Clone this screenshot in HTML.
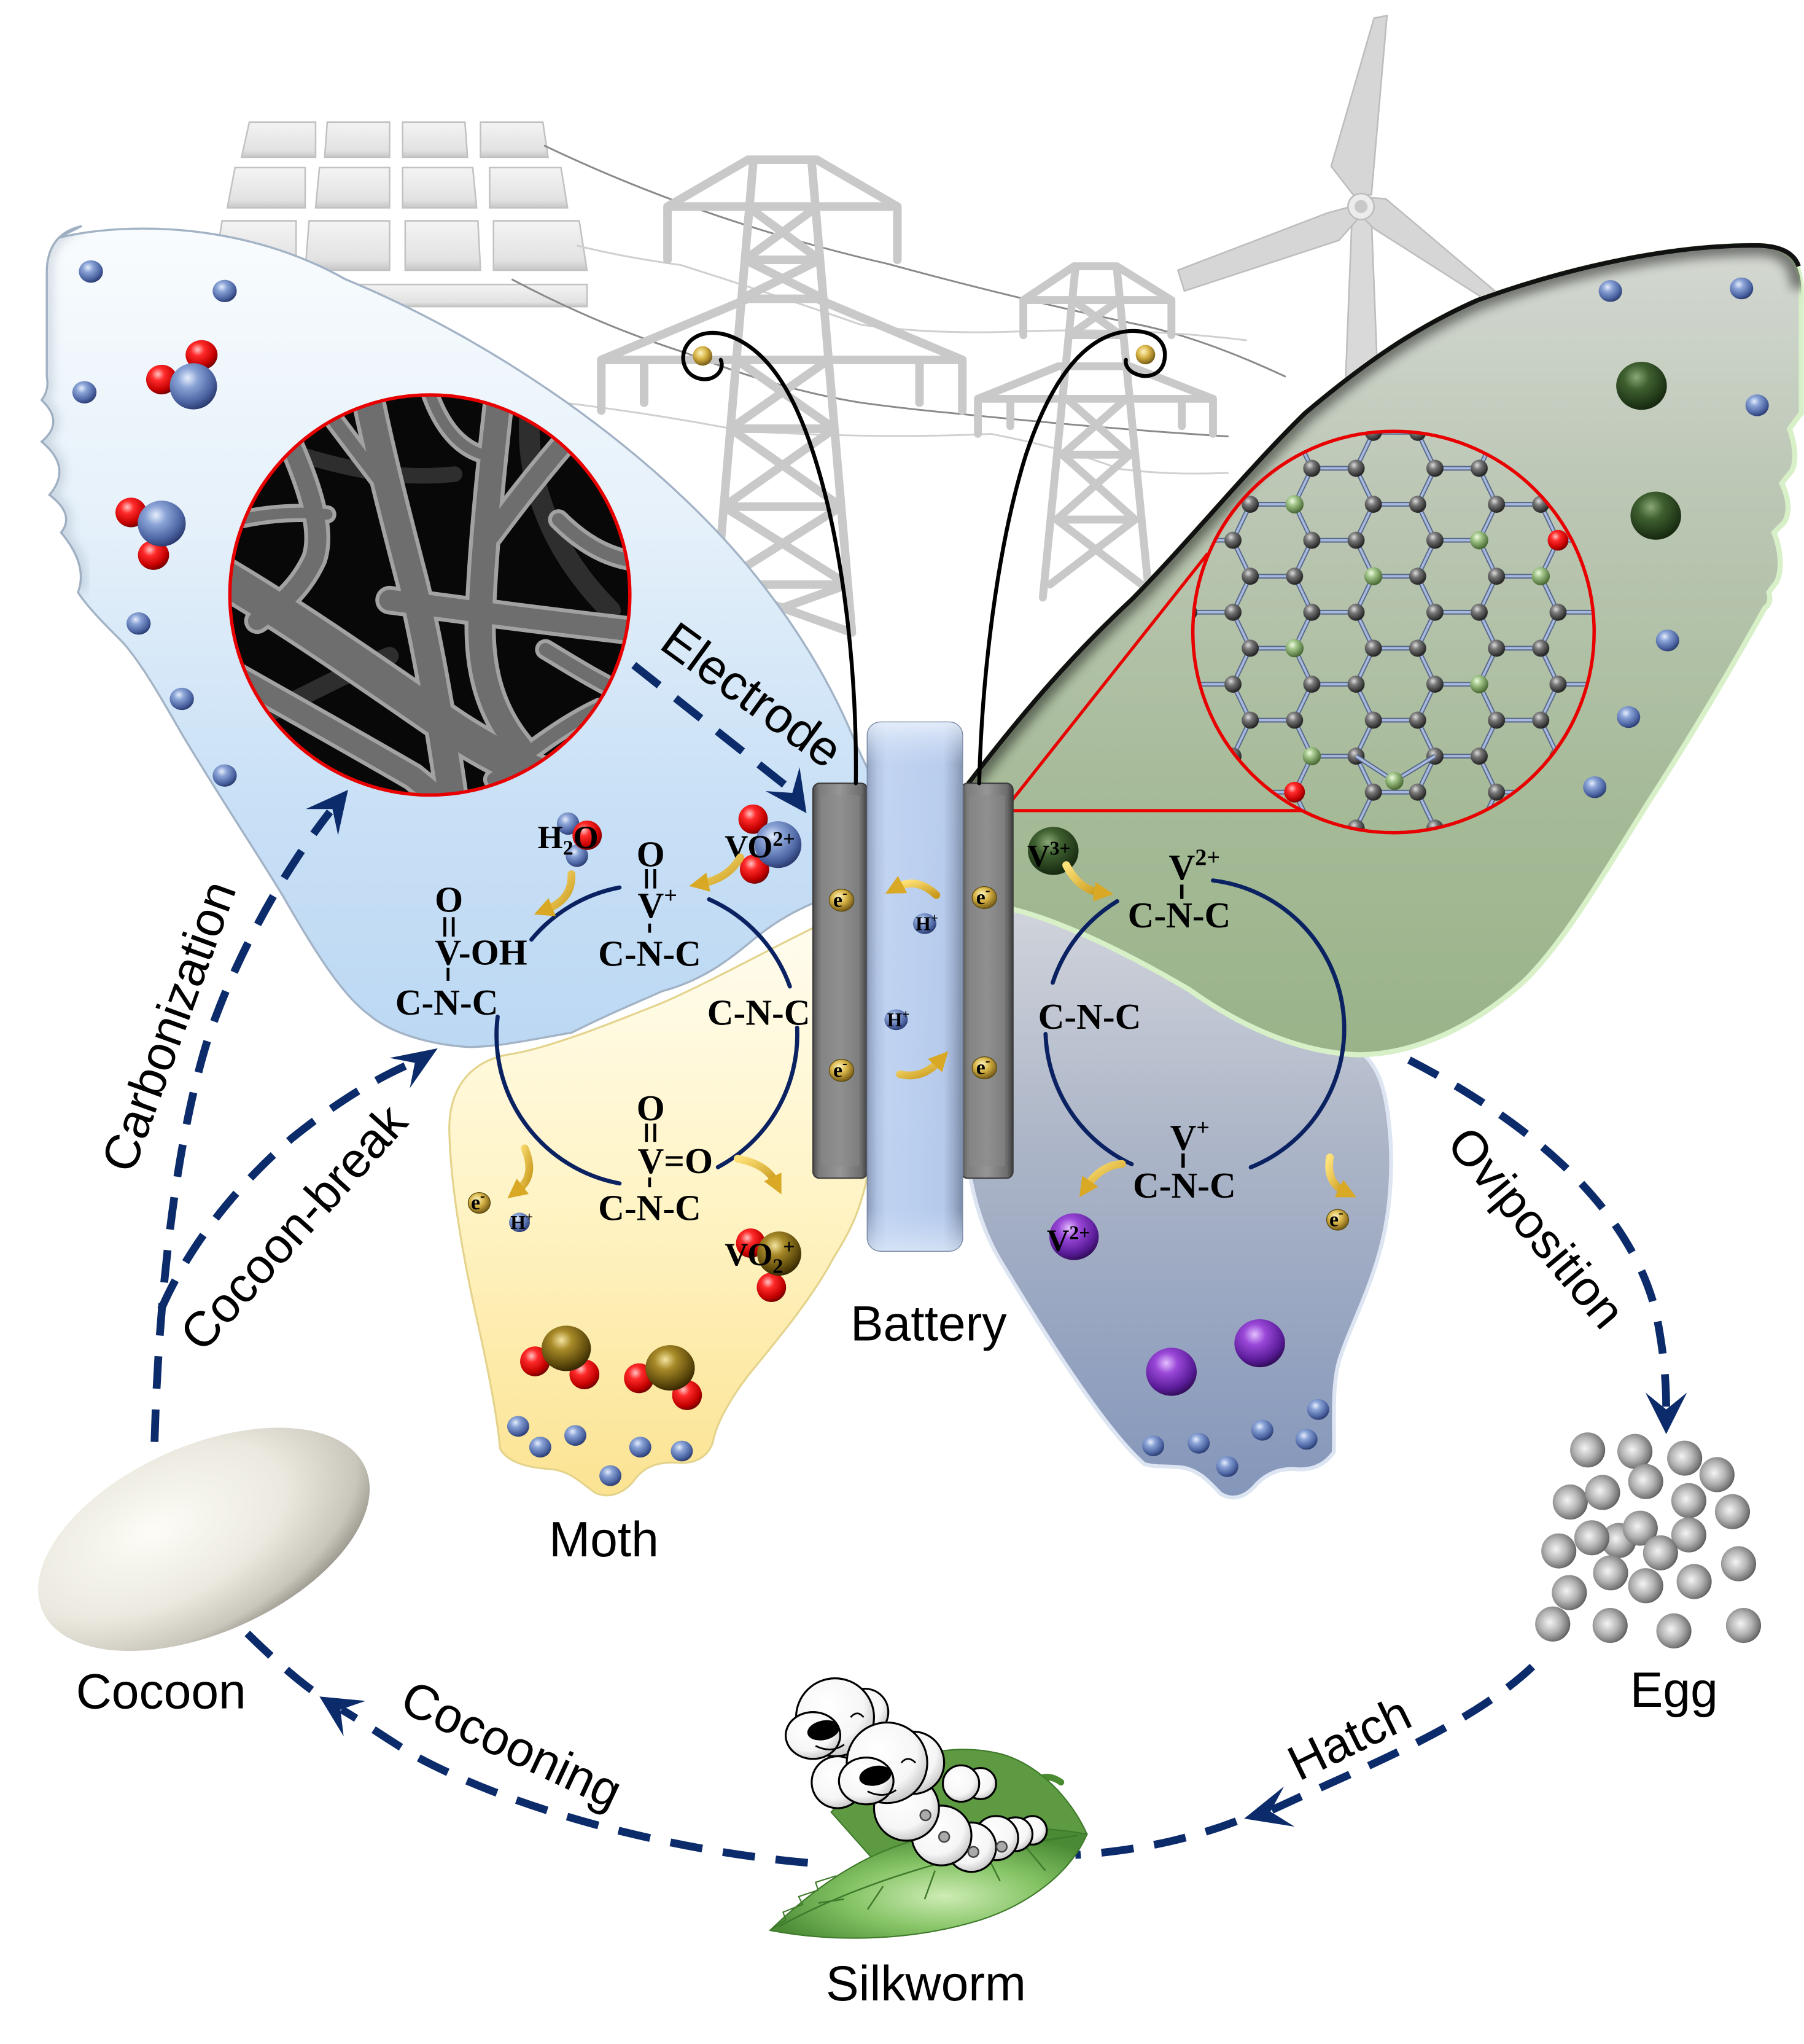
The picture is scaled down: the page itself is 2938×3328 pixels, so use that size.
<!DOCTYPE html>
<html><head><meta charset="utf-8">
<style>
html,body{margin:0;padding:0;background:#fff;}
svg{display:block;}
.cs{font-family:"Liberation Serif",serif;font-weight:bold;fill:#000;}
.lb{font-family:"Liberation Sans",sans-serif;fill:#000;font-size:38px;}
</style></head><body>
<svg width="2938" height="3328" viewBox="0 0 1389.1 1573.5" preserveAspectRatio="none" xmlns="http://www.w3.org/2000/svg">
<defs>
<radialGradient id="gBlue" cx=".38" cy=".32" r=".72"><stop offset="0" stop-color="#e6eefc"/><stop offset=".3" stop-color="#8aa3d6"/><stop offset=".75" stop-color="#4a62a0"/><stop offset="1" stop-color="#263668"/></radialGradient>
<radialGradient id="gRed" cx=".38" cy=".32" r=".72"><stop offset="0" stop-color="#ffc4c4"/><stop offset=".3" stop-color="#ff2a2a"/><stop offset=".75" stop-color="#c40000"/><stop offset="1" stop-color="#6a0000"/></radialGradient>
<radialGradient id="gDG" cx=".4" cy=".32" r=".72"><stop offset="0" stop-color="#8aa878"/><stop offset=".35" stop-color="#3f6030"/><stop offset="1" stop-color="#12240c"/></radialGradient>
<radialGradient id="gPur" cx=".4" cy=".32" r=".72"><stop offset="0" stop-color="#e4c0ff"/><stop offset=".3" stop-color="#9a48d8"/><stop offset=".75" stop-color="#5a1c98"/><stop offset="1" stop-color="#2c0a50"/></radialGradient>
<radialGradient id="gGold" cx=".4" cy=".32" r=".72"><stop offset="0" stop-color="#f4e4a0"/><stop offset=".3" stop-color="#a88a28"/><stop offset=".75" stop-color="#5e4a0c"/><stop offset="1" stop-color="#2e2200"/></radialGradient>
<radialGradient id="gE" cx=".4" cy=".35" r=".7"><stop offset="0" stop-color="#fff6c0"/><stop offset=".45" stop-color="#d6b244"/><stop offset="1" stop-color="#6a5010"/></radialGradient>
<radialGradient id="gEgg" cx=".42" cy=".45" r=".62"><stop offset="0" stop-color="#f4f4f4"/><stop offset=".5" stop-color="#b4b4b4"/><stop offset=".85" stop-color="#777"/><stop offset="1" stop-color="#4a4a4a"/></radialGradient>
<radialGradient id="gAtom" cx=".38" cy=".32" r=".72"><stop offset="0" stop-color="#dcdcdc"/><stop offset=".35" stop-color="#777"/><stop offset="1" stop-color="#1a1a1a"/></radialGradient>
<radialGradient id="gGA" cx=".38" cy=".32" r=".72"><stop offset="0" stop-color="#eefbe0"/><stop offset=".35" stop-color="#a0c488"/><stop offset="1" stop-color="#40602a"/></radialGradient>
<radialGradient id="gCocoon" cx=".38" cy=".35" r=".72"><stop offset="0" stop-color="#fdfcf6"/><stop offset=".55" stop-color="#ebe9df"/><stop offset=".85" stop-color="#c9c6bb"/><stop offset="1" stop-color="#8e8b82"/></radialGradient>
<radialGradient id="gLeaf" cx=".55" cy=".62" r=".6"><stop offset="0" stop-color="#cdecb4"/><stop offset=".5" stop-color="#86c466"/><stop offset="1" stop-color="#4a8a34"/></radialGradient>
<radialGradient id="gWorm" cx=".4" cy=".35" r=".72"><stop offset="0" stop-color="#fff"/><stop offset=".65" stop-color="#f6f6f6"/><stop offset="1" stop-color="#bcbcbc"/></radialGradient>
<linearGradient id="wBlue" x1="0" y1="0" x2="0" y2="1"><stop offset="0" stop-color="#f9fcfe"/><stop offset=".35" stop-color="#e6f1fa"/><stop offset=".7" stop-color="#c9e0f6"/><stop offset="1" stop-color="#bcd8f3"/></linearGradient>
<linearGradient id="wYel" x1="0" y1="0" x2="0" y2="1"><stop offset="0" stop-color="#fffdf2"/><stop offset=".5" stop-color="#fff4c6"/><stop offset="1" stop-color="#fbe392"/></linearGradient>
<linearGradient id="wGray" x1="0" y1="0" x2="0" y2="1"><stop offset="0" stop-color="#d2d5dc"/><stop offset=".4" stop-color="#adb6c8"/><stop offset="1" stop-color="#8496ba"/></linearGradient>
<linearGradient id="wGreen" x1="0" y1="0" x2="0" y2="1"><stop offset="0" stop-color="#d4d8d2"/><stop offset=".3" stop-color="#bcc7b5"/><stop offset=".7" stop-color="#a5ba97"/><stop offset="1" stop-color="#9ab389"/></linearGradient>
<linearGradient id="gMem" x1="0" y1="0" x2="1" y2="0"><stop offset="0" stop-color="#7e8eac"/><stop offset=".1" stop-color="#a9bcdc"/><stop offset=".2" stop-color="#bfd2f0"/><stop offset=".8" stop-color="#b2c7ea"/><stop offset=".92" stop-color="#8c9dbc"/><stop offset="1" stop-color="#687894"/></linearGradient>
<linearGradient id="gMemV" x1="0" y1="0" x2="0" y2="1"><stop offset="0" stop-color="#e8f0fc" stop-opacity=".9"/><stop offset=".08" stop-color="#c8daf4" stop-opacity=".3"/><stop offset=".92" stop-color="#c0d4f2" stop-opacity=".2"/><stop offset="1" stop-color="#dce8f8" stop-opacity=".8"/></linearGradient>
<linearGradient id="gEl" x1="0" y1="0" x2="1" y2="0"><stop offset="0" stop-color="#4c4c4c"/><stop offset=".12" stop-color="#7c7c7c"/><stop offset=".5" stop-color="#969696"/><stop offset=".88" stop-color="#6e6e6e"/><stop offset="1" stop-color="#3e3e3e"/></linearGradient>
<linearGradient id="gPanel" x1="0" y1="0" x2="0" y2="1"><stop offset="0" stop-color="#f4f4f4"/><stop offset=".8" stop-color="#e2e2e2"/><stop offset="1" stop-color="#c6c6c6"/></linearGradient>
<linearGradient id="gYA" x1="0" y1="0" x2="1" y2="1"><stop offset="0" stop-color="#ffe27a"/><stop offset="1" stop-color="#c99a1c"/></linearGradient>
<filter id="blur4" x="-20%" y="-20%" width="140%" height="140%"><feGaussianBlur stdDeviation="4"/></filter>
<filter id="blur2" x="-20%" y="-20%" width="140%" height="140%"><feGaussianBlur stdDeviation="1.5"/></filter>
<clipPath id="cpSem"><circle cx="331" cy="458" r="154"/></clipPath>
<clipPath id="cpHex"><circle cx="1073" cy="486.5" r="154"/></clipPath>
<clipPath id="cpGreen"><path d="M745,604 C790,545 830,500 872,461 C920,412 960,362 1005,318 C1050,280 1090,252 1138,231 C1210,205 1290,188 1355,189 Q1386,190 1387,222 L1387,318 L1378,330 C1383,345 1383,355 1380,362 L1372,372 C1378,385 1378,395 1374,402 L1366,410 C1372,425 1372,440 1368,448 L1362,456 C1364,462 1362,466 1359,468 C1330,520 1300,570 1271,615 C1235,672 1205,725 1173,756 C1135,790 1090,812 1045,812 C1000,810 955,790 916,762 C870,735 820,710 780,700 L745,700 Z"/></clipPath>
<clipPath id="cpBlue"><path d="M45,183 C100,170 190,172 266,215 C380,262 500,345 576,436 C612,480 640,525 660,575 L672,600 L672,690 L638,691 C610,700 590,715 578,725 C560,740 540,755 510,763 C490,772 470,780 440,795 C410,800 385,806 360,806 C330,804 300,795 284,781 C262,765 240,728 218,690 C200,660 170,615 140,565 C120,530 108,510 95,495 C80,480 68,468 60,456 Q68,435 47,410 Q58,396 38,381 Q56,360 32,340 Q50,325 32,308 Q38,300 36,290 L36,210 Q36,180 63,174 Z"/></clipPath>
<pattern id="hex" patternUnits="userSpaceOnUse" x="962.7" y="388.2" width="94.8" height="55.4">
<path d="M0,0 L34.1,0 M0,55.4 L34.1,55.4 M34.1,0 L47.4,27.7 L34.1,55.4 M47.4,27.7 L81.5,27.7 M94.8,0 L81.5,27.7 L94.8,55.4" stroke="#56668a" stroke-width="3.6" fill="none"/>
<path d="M0,0 L34.1,0 M0,55.4 L34.1,55.4 M34.1,0 L47.4,27.7 L34.1,55.4 M47.4,27.7 L81.5,27.7 M94.8,0 L81.5,27.7 L94.8,55.4" stroke="#a9badf" stroke-width="1.8" fill="none"/>
<g fill="url(#gAtom)">
<circle cx="0" cy="0" r="6.6"/><circle cx="94.8" cy="0" r="6.6"/><circle cx="0" cy="55.4" r="6.6"/><circle cx="94.8" cy="55.4" r="6.6"/>
<circle cx="34.1" cy="0" r="6.6"/><circle cx="34.1" cy="55.4" r="6.6"/><circle cx="47.4" cy="27.7" r="6.6"/><circle cx="81.5" cy="27.7" r="6.6"/>
</g>
</pattern>
<marker id="ya" viewBox="0 0 10 10" refX="3" refY="5" markerWidth="15" markerHeight="15" markerUnits="userSpaceOnUse" orient="auto"><path d="M0,0 L10,5 L0,10 Z" fill="#d9a824"/></marker>
</defs>

<rect x="0" y="0" width="1389.1" height="1573.5" fill="#fff"/>

<!-- Solar panels -->
<g fill="url(#gPanel)" stroke="#c2c2c2" stroke-width="1.2">
<polygon points="192,94 243,94 243,121 186,121"/><polygon points="252,94 300,94 300,121 250,121"/><polygon points="310,94 358,94 360,121 310,121"/><polygon points="370,94 418,94 422,121 370,121"/>
<polygon points="181,129 235,129 235,160 175,160"/><polygon points="246,129 300,129 300,160 243,160"/><polygon points="310,129 364,129 367,160 310,160"/><polygon points="377,129 432,129 437,160 377,160"/>
<polygon points="171,170 228,170 228,208 165,208"/><polygon points="238,170 300,170 300,208 235,208"/><polygon points="312,170 368,170 370,208 312,208"/><polygon points="380,170 446,170 452,208 380,208"/>
<rect x="265" y="219" width="187" height="17"/>
</g>

<!-- power lines -->
<g fill="none" stroke-width="1.4">
<path d="M419,112 Q540,170 683,203 Q790,232 882,251 Q930,262 990,290" stroke="#8a8a8a"/>
<path d="M444,189 Q480,198 524,204 Q600,228 663,250 Q720,258 788,255 Q880,252 960,262" stroke="#cfcfcf"/>
<path d="M394,215 Q460,250 529,272 Q600,300 663,310 Q700,315 733,318 Q850,330 946,336" stroke="#8a8a8a"/>
<path d="M434,310 Q500,318 574,332 Q680,338 763,334 Q820,345 862,361 Q900,366 946,364" stroke="#d0d0d0"/>
</g>

<!-- Towers -->
<g fill="none" stroke-linecap="round" stroke-linejoin="round">
<path id="tw1" d="M576,123 L629,123 M576,123 L514,159 M629,123 L691,159 M514,159 L691,159 M514,159 L514,200 M691,159 L691,200 M576,230 L629,230 M576,230 L463,277 M629,230 L741,277 M463,277 L741,277 M463,277 L463,316 M741,277 L741,316 M496,277 L496,310 M708,277 L708,310 M580,125 L549,487 M625,125 L656,487 M577,160 L631.4,200 M628,160 L573.6,200 M573.6,200 L634.2,230 M631.4,200 L570.8,230 M567,277 L642.5,330 M638,277 L562.5,330 M562.5,330 L647.7,390 M642.5,330 L557.3,390 M557.3,390 L652.8,450 M647.7,390 L552.2,450 M552.2,450 L656,487 M652.8,450 L549,487 M573.6,200 L631.4,200 M562.5,330 L642.5,330 M557.3,390 L647.7,390 M552.2,450 L652.8,450" stroke="#c9c9c9" stroke-width="6.5"/>
<use href="#tw1" stroke="#e8e8e8" stroke-width="2.6"/>
<path id="tw2" d="M827,205 L860,205 M827,205 L788,231 M860,205 L902,231 M788,231 L902,231 M788,231 L788,258 M902,231 L902,258 M815,282 L870,282 M815,282 L753,307 M870,282 L934,307 M753,307 L934,307 M753,307 L753,334 M934,307 L934,334 M778,307 L778,328 M910,307 L910,328 M828,207 L803,460 M860,207 L885,460 M826,231 L863,258 M862,231 L823.5,258 M821.5,307 L870,350 M867,307 L818,350 M818,350 L874,400 M870,350 L813.5,400 M813.5,400 L879,450 M874,400 L808.5,450 M823.5,258 L865,258 M818,350 L870,350 M813.5,400 L874,400" stroke="#c9c9c9" stroke-width="6"/>
<use href="#tw2" stroke="#e8e8e8" stroke-width="2.4"/>
</g>

<!-- Wind turbine -->
<g stroke="#bdbdbd" stroke-width="1.2">
<polygon points="1041,168 1056,168 1061,295 1036,295" fill="#d9d9d9"/>
<path d="M1042,150 L1025,128 L1058,14 L1068,12 L1056,150 Z" fill="#d6d6d6"/>
<path d="M1044,158 L1022,164 L907,208 L912,224 L1031,185 L1046,168 Z" fill="#d6d6d6"/>
<path d="M1052,152 L1067,153 L1157,229 L1149,234 L1058,176 L1050,168 Z" fill="#d6d6d6"/>
<circle cx="1048" cy="159" r="10" fill="#ececec"/>
<circle cx="1048" cy="159" r="5" fill="#c8c8c8" stroke="none"/>
</g>

<!-- Lower wings -->
<path d="M346,872 C345,840 360,818 390,812 C420,808 470,788 510,772 C560,750 610,720 668,695 L668,905 C662,935 652,952 642,968 C625,1000 598,1032 576,1059 C560,1080 551,1098 549,1110 C545,1122 535,1127 522,1126 C505,1125 495,1130 488,1140 C480,1150 468,1154 458,1149 C448,1142 440,1133 425,1131 C405,1130 390,1125 385,1115 C383,1090 375,1050 366,1010 C355,960 347,910 346,872 Z" fill="url(#wYel)" stroke="#e4d38c" stroke-width="1.5"/>
<path d="M742,690 L790,700 C860,720 950,770 1040,805 C1060,815 1066,835 1069,860 C1073,890 1072,930 1062,965 C1052,1000 1038,1025 1031,1048 C1025,1070 1028,1100 1027,1118 C1020,1128 1010,1132 998,1131 C985,1130 975,1135 968,1142 C960,1152 950,1156 940,1150 C932,1142 925,1133 912,1130 C900,1128 890,1130 881,1127 C850,1100 800,1020 770,970 C758,950 750,925 746,900 Z" fill="url(#wGray)" stroke="#dde5f2" stroke-width="3"/>

<!-- Upper blue wing -->
<path d="M45,183 C100,170 190,172 266,215 C380,262 500,345 576,436 C612,480 640,525 660,575 L672,600 L672,690 L638,691 C610,700 590,715 578,725 C560,740 540,755 510,763 C490,772 470,780 440,795 C410,800 385,806 360,806 C330,804 300,795 284,781 C262,765 240,728 218,690 C200,660 170,615 140,565 C120,530 108,510 95,495 C80,480 68,468 60,456 Q68,435 47,410 Q58,396 38,381 Q56,360 32,340 Q50,325 32,308 Q38,300 36,290 L36,210 Q36,180 63,174 Z" fill="url(#wBlue)" stroke="#a3b3c6" stroke-width="1.6"/>
<g clip-path="url(#cpBlue)"><path d="M60,456 Q68,435 47,410 Q58,396 38,381 Q56,360 32,340 Q50,325 32,308 Q38,300 36,290 L36,210 Q36,180 63,174" fill="none" stroke="#8898aa" stroke-width="8" opacity=".35" filter="url(#blur4)"/></g>

<!-- Upper green wing -->
<path d="M745,604 C790,545 830,500 872,461 C920,412 960,362 1005,318 C1050,280 1090,252 1138,231 C1210,205 1290,188 1355,189 Q1386,190 1387,222 L1387,318 L1378,330 C1383,345 1383,355 1380,362 L1372,372 C1378,385 1378,395 1374,402 L1366,410 C1372,425 1372,440 1368,448 L1362,456 C1364,462 1362,466 1359,468 C1330,520 1300,570 1271,615 C1235,672 1205,725 1173,756 C1135,790 1090,812 1045,812 C1000,810 955,790 916,762 C870,735 820,710 780,700 L745,700 Z" fill="url(#wGreen)" stroke="#d8f0c8" stroke-width="4"/>
<g clip-path="url(#cpGreen)"><path d="M745,604 C790,545 830,500 872,461 C920,412 960,362 1005,318 C1050,280 1090,252 1138,231 C1210,205 1290,188 1355,189 Q1386,190 1387,222" fill="none" stroke="#000" stroke-width="16" opacity=".45" filter="url(#blur4)"/></g>
<path d="M745,604 C790,545 830,500 872,461 C920,412 960,362 1005,318 C1050,280 1090,252 1138,231 C1210,205 1290,188 1355,189 Q1380,190 1385,205" fill="none" stroke="#111" stroke-width="3.5"/>

<!-- SEM circle -->
<g clip-path="url(#cpSem)">
<rect x="170" y="300" width="320" height="320" fill="#080808"/>
<g fill="none" stroke-linecap="round">
<g stroke="#2e2e2e">
<path d="M410,300 C400,360 420,420 470,470" stroke-width="16"/>
<path d="M180,560 C230,540 260,520 300,505" stroke-width="14"/>
<path d="M200,340 C260,360 300,370 350,365" stroke-width="12"/>
</g>
<g stroke="#a2a2a2">
<path d="M282,300 C292,350 305,400 318,450 C330,500 340,560 348,615" stroke-width="26"/>
<path d="M385,300 C378,360 372,420 370,470 C368,510 375,545 400,575" stroke-width="24"/>
<path d="M205,300 C228,350 252,400 242,430 C232,452 216,466 198,478" stroke-width="20"/>
<path d="M455,318 C425,350 398,385 378,412" stroke-width="20"/>
<path d="M240,300 C262,330 285,360 302,382" stroke-width="16"/>
<path d="M176,402 C200,396 225,393 252,396" stroke-width="14"/>
<path d="M330,300 C340,330 355,345 372,350" stroke-width="14"/>
<path d="M430,400 C450,420 470,430 490,432" stroke-width="16"/>
<path d="M300,462 C360,470 420,478 490,486" stroke-width="22"/>
<path d="M420,500 C440,512 462,526 492,540" stroke-width="16"/>
<path d="M380,600 C400,585 430,560 462,545" stroke-width="16"/>
<path d="M172,515 C225,545 275,573 318,598 L345,620" stroke-width="22"/>
<path d="M165,440 C230,478 300,528 350,562 C390,588 425,602 470,618" stroke-width="32"/>
</g>
<g stroke="#6e6e6e">
<path d="M282,300 C292,350 305,400 318,450 C330,500 340,560 348,615" stroke-width="20"/>
<path d="M385,300 C378,360 372,420 370,470 C368,510 375,545 400,575" stroke-width="18"/>
<path d="M205,300 C228,350 252,400 242,430 C232,452 216,466 198,478" stroke-width="14"/>
<path d="M455,318 C425,350 398,385 378,412" stroke-width="14"/>
<path d="M240,300 C262,330 285,360 302,382" stroke-width="10"/>
<path d="M176,402 C200,396 225,393 252,396" stroke-width="8"/>
<path d="M330,300 C340,330 355,345 372,350" stroke-width="8"/>
<path d="M430,400 C450,420 470,430 490,432" stroke-width="10"/>
<path d="M300,462 C360,470 420,478 490,486" stroke-width="16"/>
<path d="M420,500 C440,512 462,526 492,540" stroke-width="10"/>
<path d="M380,600 C400,585 430,560 462,545" stroke-width="10"/>
<path d="M172,515 C225,545 275,573 318,598 L345,620" stroke-width="16"/>
<path d="M165,440 C230,478 300,528 350,562 C390,588 425,602 470,618" stroke-width="26"/>
</g>
</g>
</g>
<circle cx="331" cy="458" r="154" fill="none" stroke="#e80000" stroke-width="2.6"/>

<!-- Graphene circle -->
<path d="M773,624 L930,426 M773,624 L1005,624" stroke="#e80000" stroke-width="2.4" fill="none"/>
<circle cx="773" cy="624" r="3.2" fill="none" stroke="#e80000" stroke-width="1.6"/>
<g clip-path="url(#cpHex)">
<rect x="915" y="330" width="316" height="316" fill="url(#hex)"/>
<path d="M1044.2,582.1 L1073.7,601.2 L1104.9,582.1" stroke="#56668a" stroke-width="3.6" fill="none"/>
<path d="M1044.2,582.1 L1073.7,601.2 L1104.9,582.1" stroke="#a9badf" stroke-width="1.8" fill="none"/>
<g fill="url(#gGA)">
<circle cx="996.8" cy="388.2" r="7"/><circle cx="1139" cy="415.9" r="7"/><circle cx="1057.5" cy="443.6" r="7"/><circle cx="1186.4" cy="443.6" r="7"/><circle cx="996.8" cy="499" r="7"/><circle cx="1139" cy="526.7" r="7"/><circle cx="1010.1" cy="582.1" r="7"/><circle cx="1073.7" cy="601.2" r="7"/>
</g>
<g fill="url(#gRed)"><circle cx="1199.7" cy="415.9" r="8"/><circle cx="996.8" cy="609.8" r="8"/></g>
</g>
<circle cx="1073" cy="486.5" r="154.5" fill="none" stroke="#e80000" stroke-width="2.6"/>

<!-- Reaction cycles -->
<g fill="none" stroke="#0b2262" stroke-width="3.2" stroke-linecap="round">
<path d="M409.2,723.3 A116,116 0 0 1 477,683.2"/>
<path d="M546,692.3 A116,116 0 0 1 608.2,759.4"/>
<path d="M613.8,791.1 A116,116 0 0 1 552.8,898.5"/>
<path d="M477,911 A116,116 0 0 1 383.2,782.7"/>
<path d="M860.2,693.8 A115,115 0 0 0 810.6,756.5"/>
<path d="M934,677.8 A115,115 0 0 1 963.1,898.6"/>
<path d="M871.4,896.2 A115,115 0 0 1 805.1,796"/>
</g>

<!-- Battery -->
<rect x="626" y="603" width="42" height="304" rx="5" fill="url(#gEl)" stroke="#3a3a3a" stroke-width="1"/>
<rect x="632" y="612" width="30" height="286" rx="2" fill="#8a8a8a" opacity=".5"/>
<rect x="740" y="603" width="40" height="304" rx="5" fill="url(#gEl)" stroke="#3a3a3a" stroke-width="1"/>
<rect x="746" y="612" width="28" height="286" rx="2" fill="#8a8a8a" opacity=".5"/>
<rect x="668" y="556" width="73" height="407" rx="10" fill="url(#gMem)" stroke="#7686a4" stroke-width="1.2"/>
<rect x="668" y="556" width="73" height="407" rx="10" fill="url(#gMemV)"/>

<!-- Antennae -->
<g fill="none" stroke="#000" stroke-width="3" stroke-linecap="round">
<path d="M659,603 C660,520 650,420 625,345 C610,300 590,268 560,258 C540,252 526,262 526,276 C527,290 540,294 548,291 C555,288 557,282 555,277"/>
<path d="M754,603 C756,520 768,420 790,350 C810,290 835,262 862,256 C880,252 897,258 897,273 C897,287 886,291 878,289 C870,287 866,282 867,277"/>
</g>
<circle cx="541" cy="274" r="7.5" fill="url(#gE)"/>
<circle cx="882" cy="273" r="7.5" fill="url(#gE)"/>

<!-- Small balls in wings -->
<g fill="url(#gBlue)">
<ellipse cx="70" cy="209" rx="9.3" ry="8.6"/><ellipse cx="173" cy="224" rx="9.3" ry="8.6"/><ellipse cx="65" cy="302" rx="9.3" ry="8.6"/><ellipse cx="106.7" cy="480" rx="9.3" ry="8.6"/><ellipse cx="140" cy="538" rx="9.3" ry="8.6"/><ellipse cx="173" cy="597" rx="9.3" ry="8.6"/>
<ellipse cx="1240" cy="224" rx="9" ry="8.4"/><ellipse cx="1341" cy="222" rx="9" ry="8.4"/><ellipse cx="1353" cy="312" rx="9" ry="8.4"/><ellipse cx="1284" cy="493" rx="9" ry="8.4"/><ellipse cx="1254" cy="552" rx="9" ry="8.4"/><ellipse cx="1228" cy="606" rx="9" ry="8.4"/>
<ellipse cx="399" cy="1098" rx="8.5" ry="8"/><ellipse cx="416" cy="1114" rx="8.5" ry="8"/><ellipse cx="443" cy="1105" rx="8.5" ry="8"/><ellipse cx="470" cy="1136" rx="8.5" ry="8"/><ellipse cx="493" cy="1114" rx="8.5" ry="8"/><ellipse cx="525" cy="1117" rx="8.5" ry="8"/>
<ellipse cx="888" cy="1113" rx="8.5" ry="8"/><ellipse cx="923" cy="1111" rx="8.5" ry="8"/><ellipse cx="945" cy="1129" rx="8.5" ry="8"/><ellipse cx="972" cy="1101" rx="8.5" ry="8"/><ellipse cx="1006" cy="1108" rx="8.5" ry="8"/><ellipse cx="1015" cy="1085" rx="8.5" ry="8"/>
</g>
<!-- VO molecules left wing -->
<g fill="url(#gRed)"><ellipse cx="155.2" cy="273.2" rx="12.3" ry="11.4"/><ellipse cx="124.5" cy="292.2" rx="12" ry="11.4"/><ellipse cx="100.9" cy="394.5" rx="12" ry="11.4"/><ellipse cx="118.2" cy="427.3" rx="12" ry="11.4"/></g>
<g fill="url(#gBlue)"><ellipse cx="148.9" cy="297.4" rx="18.2" ry="17.8"/><ellipse cx="124.5" cy="403" rx="18.5" ry="17.6"/></g>
<!-- dark green balls -->
<g fill="url(#gDG)"><ellipse cx="1264" cy="297" rx="19.5" ry="18.5"/><ellipse cx="1275" cy="397" rx="19.5" ry="18.5"/></g>
<!-- H2O -->
<g fill="url(#gBlue)"><circle cx="437.4" cy="634" r="8.6"/><circle cx="444.2" cy="658.8" r="8.6"/></g>
<circle cx="452.1" cy="643" r="11.3" fill="url(#gRed)"/>
<text class="cs" x="414" y="653" font-size="25">H<tspan font-size="16" dy="5">2</tspan><tspan dy="-5">O</tspan></text>
<!-- VO2+ top -->
<g fill="url(#gRed)"><circle cx="579.9" cy="630.6" r="11.3"/><circle cx="581" cy="669" r="11.3"/></g>
<circle cx="599.1" cy="650.2" r="18" fill="url(#gBlue)"/>
<text class="cs" x="558" y="660" font-size="25">VO<tspan font-size="16" dy="-9">2+</tspan></text>
<!-- VO2+ bottom gold -->
<g fill="url(#gRed)"><circle cx="578" cy="957" r="11.3"/><circle cx="594" cy="991" r="11.3"/></g>
<circle cx="600" cy="965" r="17" fill="url(#gGold)"/>
<text class="cs" x="558" y="974" font-size="25">VO<tspan font-size="16" dy="6">2</tspan><tspan font-size="16" dy="-15">+</tspan></text>
<!-- gold molecules -->
<g fill="url(#gRed)"><circle cx="412" cy="1048" r="11.5"/><circle cx="450" cy="1058" r="11.5"/><circle cx="492" cy="1061" r="11.5"/><circle cx="529" cy="1074" r="11.5"/></g>
<g fill="url(#gGold)"><ellipse cx="436" cy="1038" rx="19" ry="17.5"/><ellipse cx="516" cy="1053" rx="19" ry="17.5"/></g>
<!-- purple -->
<g fill="url(#gPur)"><ellipse cx="827" cy="952" rx="19" ry="18"/><ellipse cx="902" cy="1056" rx="19.5" ry="18.5"/><ellipse cx="970" cy="1034" rx="19.5" ry="18.5"/></g>
<text class="cs" x="806" y="963" font-size="24">V<tspan font-size="15" dy="-9">2+</tspan></text>
<!-- V3+ -->
<ellipse cx="811" cy="655" rx="19.5" ry="18.5" fill="url(#gDG)"/>
<text class="cs" x="791" y="667" font-size="24">V<tspan font-size="15" dy="-9">3+</tspan></text>

<!-- e- and H+ -->
<g fill="url(#gE)" stroke="#5a4a10" stroke-width=".6">
<ellipse cx="648" cy="693" rx="9.5" ry="8.5"/><ellipse cx="648" cy="824" rx="9.5" ry="8.5"/><ellipse cx="758" cy="691" rx="9.5" ry="8.5"/><ellipse cx="758" cy="822" rx="9.5" ry="8.5"/>
<ellipse cx="369" cy="926" rx="8.5" ry="8"/><ellipse cx="1030" cy="939" rx="8.5" ry="8"/>
</g>
<g class="cs" font-size="16" text-anchor="middle">
<text x="647" y="698">e<tspan font-size="11" dy="-7">-</tspan></text>
<text x="647" y="829">e<tspan font-size="11" dy="-7">-</tspan></text>
<text x="757" y="696">e<tspan font-size="11" dy="-7">-</tspan></text>
<text x="757" y="827">e<tspan font-size="11" dy="-7">-</tspan></text>
<text x="368" y="931">e<tspan font-size="11" dy="-7">-</tspan></text>
<text x="1029" y="944">e<tspan font-size="11" dy="-7">-</tspan></text>
</g>
<g fill="url(#gBlue)"><ellipse cx="712" cy="711" rx="9" ry="8"/><ellipse cx="690" cy="785" rx="9" ry="8"/><ellipse cx="400" cy="941" rx="8" ry="7.5"/></g>
<g class="cs" font-size="15">
<text x="705" y="716">H<tspan font-size="10" dy="-6">+</tspan></text>
<text x="683" y="790">H<tspan font-size="10" dy="-6">+</tspan></text>
<text x="393" y="946">H<tspan font-size="10" dy="-6">+</tspan></text>
</g>

<!-- Yellow curved arrows -->
<g fill="none" stroke="url(#gYA)" stroke-width="6" stroke-linecap="round" marker-end="url(#ya)">
<path d="M440,673 Q441,692 421,700"/>
<path d="M570,660 Q561,676 541,680"/>
<path d="M721,689 Q706,675 691,683"/>
<path d="M693,827 Q710,831 723,817"/>
<path d="M821,666 Q831,685 847,687"/>
<path d="M404,884 Q413,905 399,916"/>
<path d="M568,892 Q590,896 597,910"/>
<path d="M864,896 Q848,897 837,913"/>
<path d="M1024,891 Q1021,910 1035,917"/>
</g>

<!-- Chemistry labels -->
<g class="cs" font-size="28">
<text x="345.7" y="702" text-anchor="middle">O</text>
<text x="335" y="742.5">V-OH</text>
<text x="344" y="781" text-anchor="middle">C-N-C</text>
<text x="501" y="667" text-anchor="middle">O</text>
<text x="491" y="706.3">V<tspan font-size="18" dy="-11">+</tspan></text>
<text x="500.2" y="743.6" text-anchor="middle">C-N-C</text>
<text x="584.2" y="788.8" text-anchor="middle">C-N-C</text>
<text x="501" y="862.3" text-anchor="middle">O</text>
<text x="491" y="903">V=O</text>
<text x="500.2" y="939.2" text-anchor="middle">C-N-C</text>
<text x="900" y="677">V<tspan font-size="18" dy="-11">2+</tspan></text>
<text x="908" y="714" text-anchor="middle">C-N-C</text>
<text x="839" y="792" text-anchor="middle">C-N-C</text>
<text x="901" y="885">V<tspan font-size="18" dy="-11">+</tspan></text>
<text x="912" y="922" text-anchor="middle">C-N-C</text>
</g>
<g stroke="#000" stroke-width="2.2">
<path d="M342.5,706 L342.5,721 M349,706 L349,721 M345,745 L345,755"/>
<path d="M497.8,669 L497.8,684 M504.2,669 L504.2,684 M500.2,711 L500.2,718"/>
<path d="M497.8,865 L497.8,879 M504.2,865 L504.2,879 M500.2,906.5 L500.2,914"/>
</g>
<path d="M910,681 L910,692 M911,888 L911,899" stroke="#000" stroke-width="2.6"/>

<!-- Dashed arrows -->
<g fill="none" stroke="#0c2b6b" stroke-width="6" stroke-dasharray="25 16">
<path d="M488,512 L604,604"/>
<path d="M119,1110 C122,1000 135,880 160,800 C180,740 215,675 254,625"/>
<path d="M124,1008 C145,960 180,915 225,876 C255,852 285,832 318,818"/>
<path d="M1085,816 C1180,865 1255,930 1275,1010 C1281,1040 1283,1062 1283,1085"/>
<path d="M1180,1283 C1130,1330 1050,1360 978,1394"/>
<path d="M952,1402 C910,1418 870,1425 828,1428"/>
<path d="M622,1434 C520,1425 400,1395 320,1352 C300,1340 280,1326 263,1316"/>
<path d="M240,1301 C225,1290 205,1272 188,1255"/>
</g>
<g fill="#0c2b6b">
<path d="M621,626 L589.5,609 L610.1,610.4 L615.7,590.6 Z"/>
<path d="M268,608 L260.3,643 L256,622.8 L235.5,622.8 Z"/>
<path d="M337,807 L315.6,837.6 L319.4,818.2 L300,814.4 Z"/>
<path d="M1283,1104 L1267,1072 L1283,1085 L1299,1072 Z"/>
<path d="M958,1400 L988.7,1375.2 L978.3,1394.6 L996.9,1406.2 Z"/>
<path d="M246,1306 L281.6,1309.4 L262.1,1316.1 L264.6,1336.6 Z"/>
</g>

<!-- Rotated labels -->
<g class="lb">
<text transform="translate(579,535) rotate(36)" text-anchor="middle" dy="13">Electrode</text>
<text transform="translate(130,790) rotate(-70)" text-anchor="middle" dy="13">Carbonization</text>
<text transform="translate(226,945) rotate(-48)" text-anchor="middle" dy="13">Cocoon-break</text>
<text transform="translate(394,1343) rotate(25)" text-anchor="middle" dy="13">Cocooning</text>
<text transform="translate(1039,1338) rotate(-26)" text-anchor="middle" dy="13">Hatch</text>
<text transform="translate(1183,945) rotate(50)" text-anchor="middle" dy="13">Oviposition</text>
</g>
<g class="lb" text-anchor="middle">
<text x="465" y="1198">Moth</text>
<text x="715" y="1032">Battery</text>
<text x="124" y="1315">Cocoon</text>
<text x="1289" y="1314">Egg</text>
<text x="713" y="1540">Silkworm</text>
</g>

<!-- Cocoon -->
<ellipse cx="157" cy="1185" rx="136" ry="72" transform="rotate(-24 157 1185)" fill="url(#gCocoon)"/>

<!-- Eggs -->
<g fill="url(#gEgg)">
<circle cx="1246.4" cy="1185.9" r="13.5"/>
<circle cx="1222.5" cy="1116.2" r="13.5"/><circle cx="1258.9" cy="1117.3" r="13.5"/><circle cx="1297.2" cy="1122.5" r="13.5"/><circle cx="1322.1" cy="1135.2" r="13.5"/>
<circle cx="1267.2" cy="1140.5" r="13.5"/><circle cx="1209.1" cy="1156.3" r="13.5"/><circle cx="1234" cy="1148.9" r="13.5"/><circle cx="1300.4" cy="1155.2" r="13.5"/><circle cx="1334" cy="1163.7" r="13.5"/>
<circle cx="1225.7" cy="1183.8" r="13.5"/><circle cx="1263" cy="1176.4" r="13.5"/><circle cx="1300.4" cy="1181.6" r="13.5"/><circle cx="1278.6" cy="1195.4" r="13.5"/><circle cx="1200.3" cy="1193.9" r="13.5"/><circle cx="1338.7" cy="1203.8" r="13.5"/>
<circle cx="1240.2" cy="1210.8" r="13.5"/><circle cx="1267.2" cy="1220.7" r="13.5"/><circle cx="1304.5" cy="1217.5" r="13.5"/><circle cx="1208.4" cy="1226" r="13.5"/>
<circle cx="1195.6" cy="1250.2" r="13.5"/><circle cx="1239.8" cy="1251.3" r="13.5"/><circle cx="1288.9" cy="1255.5" r="13.5"/><circle cx="1342.5" cy="1251.3" r="13.5"/>
</g>

<!-- Silkworm on leaf -->
<path d="M795,1372 Q806,1364 817,1372" fill="none" stroke="#4a8a30" stroke-width="5" stroke-linecap="round"/>
<path d="M640,1395 C670,1360 720,1338 770,1350 C800,1358 825,1385 837,1412 C790,1410 730,1420 680,1440 Z" fill="#5d9a42" stroke="#3e7a2a" stroke-width="1"/>
<path d="M593,1486 C625,1455 660,1430 700,1418 C750,1405 800,1405 837,1412 C825,1440 795,1465 755,1478 C700,1495 640,1495 593,1486 Z" fill="url(#gLeaf)" stroke="#3e7a2a" stroke-width="1"/>
<path d="M593,1486 L605,1478 L603,1472 L618,1466 L615,1460 L630,1455 L628,1449 L644,1444" fill="none" stroke="#3e7a2a" stroke-width="1"/>
<path d="M600,1483 C660,1450 740,1425 830,1413 M680,1452 L668,1470 M720,1440 L712,1462 M760,1428 L770,1448 M650,1462 L630,1465 M790,1422 L805,1440" fill="none" stroke="#3f7a2c" stroke-width="1.2"/>
<g fill="url(#gWorm)" stroke="#000" stroke-width="1.5">
<circle cx="666" cy="1318" r="18"/>
<circle cx="645" cy="1372" r="20"/>
<circle cx="755" cy="1373" r="12"/>
<circle cx="740" cy="1373" r="14"/>
<circle cx="643" cy="1322" r="30"/>
<ellipse cx="626" cy="1336" rx="21" ry="18"/>
<circle cx="795" cy="1409" r="11"/>
<circle cx="782" cy="1412" r="13"/>
<circle cx="767" cy="1415" r="17"/>
<circle cx="748" cy="1422" r="19"/>
<circle cx="725" cy="1413" r="23"/>
<circle cx="698" cy="1392" r="25"/>
<circle cx="703" cy="1357" r="24"/>
<circle cx="683" cy="1357" r="31"/>
<ellipse cx="667" cy="1371" rx="21" ry="18"/>
</g>
<g fill="#000">
<ellipse cx="634" cy="1332" rx="12.5" ry="7.5" transform="rotate(-12 634 1332)"/>
<ellipse cx="674" cy="1367" rx="12.5" ry="7.5" transform="rotate(-12 674 1367)"/>
</g>
<g fill="none" stroke="#000" stroke-width="1.3">
<path d="M628,1344 Q640,1350 650,1343"/>
<path d="M668,1379 Q680,1385 690,1378"/>
<path d="M655,1322 Q660,1316 665,1322"/>
<path d="M694,1357 Q699,1351 705,1357"/>
</g>
<g fill="#aaa" stroke="#444" stroke-width="1.2">
<circle cx="712.6" cy="1397.4" r="4"/><circle cx="727" cy="1414" r="4"/><circle cx="749.5" cy="1425.6" r="4"/><circle cx="771.3" cy="1421.6" r="4"/>
</g>
</svg>
</body></html>
